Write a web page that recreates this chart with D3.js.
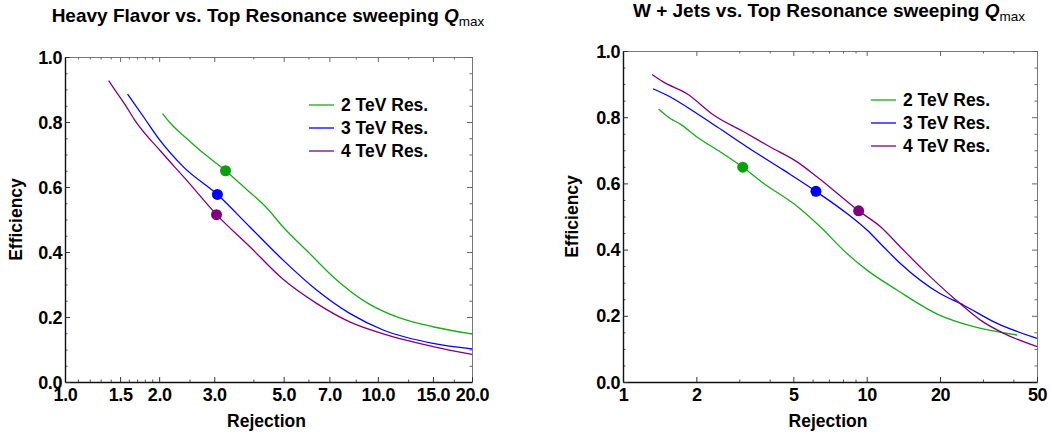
<!DOCTYPE html>
<html>
<head>
<meta charset="utf-8">
<script src="https://cdn.jsdelivr.net/npm/d3@7"></script>
<style>
  body { margin: 0; background: #fff; }
  svg { display: block; font-family: "Liberation Sans", Arial, sans-serif; }
  .tick text { font-weight: bold; font-size: 18px; fill: #000; }
  .lbl { font-weight: bold; font-size: 17.5px; }
  .ttl { font-weight: bold; font-size: 19px; }
</style>
</head>
<body>
<div class="chart"></div>
<script>
// series labels
const seriesNames = ["2 TeV Res.", "3 TeV Res.", "4 TeV Res."];
const seriesColors = ["#1aaa1a", "#0000ff", "#800080"];
const dotColors = ["#0aa00a", "#0000ff", "#800080"];

// Heavy Flavor panel: [rejection, efficiency]
const hf2 = [[2.05, 0.826], [2.17, 0.797], [2.45, 0.749], [2.7, 0.713], [3.0, 0.678], [3.26, 0.65], [3.8, 0.593], [4.41, 0.536], [4.98, 0.477], [6.06, 0.395], [7.19, 0.324], [9.19, 0.245], [11.75, 0.197], [15.0, 0.17], [20, 0.148]];
const hf3 = [[1.585, 0.886], [1.8, 0.81], [2.01, 0.744], [2.39, 0.662], [3.07, 0.577], [3.9, 0.477], [4.98, 0.375], [6.37, 0.283], [8.13, 0.211], [10.4, 0.16], [15.0, 0.119], [20, 0.102]];
const hf4 = [[1.379, 0.927], [1.445, 0.898], [1.574, 0.846], [1.673, 0.805], [2.01, 0.713], [2.447, 0.621], [3.05, 0.515], [3.9, 0.416], [4.98, 0.316], [6.37, 0.242], [8.13, 0.185], [10.4, 0.148], [15.0, 0.109], [20, 0.085]];
const hfDots = [[3.26, 0.65], [3.07, 0.577], [3.05, 0.515]];
const hfMajor = [1, 1.5, 2, 3, 5, 7, 10, 15, 20];
const hfMinor = [1.1, 1.2, 1.3, 1.4, 1.6, 1.7, 1.8, 1.9, 2.5, 4, 6, 8.5, 12.5, 17.5];

// W + Jets panel
const wj2 = [[1.4, 0.825], [1.564, 0.796], [1.72, 0.779], [2.01, 0.74], [2.51, 0.695], [3.1, 0.649], [3.78, 0.6], [5.01, 0.539], [6.45, 0.469], [8.3, 0.388], [10.03, 0.338], [13.3, 0.278], [19.9, 0.202], [27.5, 0.167], [41.4, 0.142]];
const wj3 = [[1.328, 0.886], [1.564, 0.861], [2.01, 0.811], [2.43, 0.771], [3.23, 0.71], [4.56, 0.64], [6.19, 0.576], [8.3, 0.509], [10.03, 0.459], [11.74, 0.408], [13.75, 0.358], [19.9, 0.268], [25.0, 0.232], [34.3, 0.177], [50, 0.132]];
const wj4 = [[1.315, 0.929], [1.468, 0.906], [1.83, 0.871], [2.36, 0.806], [3.13, 0.756], [4.02, 0.71], [5.18, 0.665], [6.25, 0.62], [9.27, 0.517], [11.4, 0.469], [13.75, 0.408], [17.1, 0.338], [22.8, 0.253], [29.3, 0.187], [36.5, 0.147], [50, 0.107]];
const wjDots = [[3.1, 0.649], [6.19, 0.576], [9.27, 0.517]];
const wjMajor = [1, 2, 5, 10, 20, 50];
const wjMinor = [3, 4, 6, 7, 8, 9, 30, 40];

const effMajor = [0, 0.2, 0.4, 0.6, 0.8, 1.0];
const effMinor = [0.05, 0.1, 0.15, 0.25, 0.3, 0.35, 0.45, 0.5, 0.55, 0.65, 0.7, 0.75, 0.85, 0.9, 0.95];

const svg = d3.select(".chart").append("svg")
  .attr("width", 1050)
  .attr("height", 433);

drawPanel({
  title: "Heavy Flavor vs. Top Resonance sweeping ",
  titleX: 268, titleY: 22,
  left: 65, right: 472, top: 57, bottom: 382,
  xMax: 20, xMajor: hfMajor, xMinor: hfMinor, xFmt: d3.format(".1f"),
  series: [hf2, hf3, hf4], dots: hfDots,
  legendX: 309, legendY: 105,
  yLabelX: 22
});

drawPanel({
  title: "W + Jets vs. Top Resonance sweeping ",
  titleX: 829, titleY: 17,
  left: 623, right: 1037, top: 51, bottom: 382,
  xMax: 50, xMajor: wjMajor, xMinor: wjMinor, xFmt: d3.format("d"),
  series: [wj2, wj3, wj4], dots: wjDots,
  legendX: 871, legendY: 100,
  yLabelX: 578
});

function drawPanel(p) {
  const x = d3.scaleLog().domain([1, p.xMax]).range([p.left, p.right]);
  const y = d3.scaleLinear().domain([0, 1]).range([p.bottom, p.top]);
  const g = svg.append("g");

  // frame: top and right mirrored ticks
  g.append("g")
    .attr("transform", "translate(0," + p.top + ")")
    .call(d3.axisTop(x).tickValues(p.xMajor).tickSize(-5).tickSizeOuter(0).tickFormat(""))
    .call(s => s.select(".domain").attr("stroke", "#777"))
    .call(s => s.selectAll(".tick line").attr("stroke", "#666"));
  g.append("g")
    .attr("transform", "translate(0," + p.top + ")")
    .call(d3.axisTop(x).tickValues(p.xMinor).tickSize(-2.5).tickSizeOuter(0).tickFormat(""))
    .call(s => s.select(".domain").remove())
    .call(s => s.selectAll(".tick line").attr("stroke", "#666"));
  g.append("g")
    .attr("transform", "translate(" + p.right + ",0)")
    .call(d3.axisRight(y).tickValues(effMajor).tickSize(-5).tickSizeOuter(0).tickFormat(""))
    .call(s => s.select(".domain").attr("stroke", "#777"))
    .call(s => s.selectAll(".tick line").attr("stroke", "#666"));
  g.append("g")
    .attr("transform", "translate(" + p.right + ",0)")
    .call(d3.axisRight(y).tickValues(effMinor).tickSize(-2.5).tickSizeOuter(0).tickFormat(""))
    .call(s => s.select(".domain").remove())
    .call(s => s.selectAll(".tick line").attr("stroke", "#666"));

  // bottom axis
  g.append("g")
    .attr("transform", "translate(0," + p.bottom + ")")
    .call(d3.axisBottom(x).tickValues(p.xMinor).tickSize(-2.5).tickSizeOuter(0).tickFormat(""))
    .call(s => s.select(".domain").remove())
    .call(s => s.selectAll(".tick line").attr("stroke", "#555"));
  g.append("g")
    .attr("transform", "translate(0," + p.bottom + ")")
    .call(d3.axisBottom(x).tickValues(p.xMajor).tickSize(-5).tickSizeOuter(0).tickFormat(p.xFmt))
    .call(s => s.select(".domain").attr("stroke", "#111").attr("stroke-width", 1.4))
    .call(s => s.selectAll(".tick line").attr("stroke", "#333"))
    .call(s => s.selectAll(".tick text").attr("y", 19).attr("dy", 0).attr("letter-spacing", "-0.4px"));

  // left axis
  g.append("g")
    .attr("transform", "translate(" + p.left + ",0)")
    .call(d3.axisLeft(y).tickValues(effMinor).tickSize(-2.5).tickSizeOuter(0).tickFormat(""))
    .call(s => s.select(".domain").remove())
    .call(s => s.selectAll(".tick line").attr("stroke", "#555"));
  g.append("g")
    .attr("transform", "translate(" + p.left + ",0)")
    .call(d3.axisLeft(y).tickValues(effMajor).tickSize(-5).tickSizeOuter(0).tickFormat(d3.format(".1f")))
    .call(s => s.select(".domain").attr("stroke", "#111").attr("stroke-width", 1.4))
    .call(s => s.selectAll(".tick line").attr("stroke", "#333"))
    .call(s => s.selectAll(".tick text").attr("x", -3).attr("dy", "0.34em").attr("letter-spacing", "-0.4px"));

  // curves
  const line = d3.line()
    .x(d => x(d[0]))
    .y(d => y(d[1]))
    .curve(d3.curveMonotoneX);

  g.selectAll(".curve")
    .data(p.series)
    .join("path")
    .attr("class", "curve")
    .attr("fill", "none")
    .attr("stroke", (d, i) => seriesColors[i])
    .attr("stroke-width", 1.3)
    .attr("d", line);

  g.selectAll(".dot")
    .data(p.dots)
    .join("circle")
    .attr("class", "dot")
    .attr("cx", d => x(d[0]))
    .attr("cy", d => y(d[1]))
    .attr("r", 5.5)
    .attr("fill", (d, i) => dotColors[i]);

  // legend
  const leg = g.selectAll(".leg")
    .data(seriesNames)
    .join("g")
    .attr("class", "leg")
    .attr("transform", (d, i) => "translate(" + p.legendX + "," + (p.legendY + i * 23) + ")");
  leg.append("line")
    .attr("x1", 0).attr("x2", 25)
    .attr("stroke", (d, i) => seriesColors[i])
    .attr("stroke-width", 1.3);
  leg.append("text")
    .attr("class", "lbl")
    .attr("x", 32)
    .attr("dy", "0.36em")
    .text(d => d);

  // axis titles
  g.append("text")
    .attr("class", "lbl")
    .attr("text-anchor", "middle")
    .attr("x", (p.left + p.right) / 2 - 2)
    .attr("y", 427)
    .text("Rejection");
  g.append("text")
    .attr("class", "lbl")
    .attr("text-anchor", "middle")
    .attr("transform", "translate(" + p.yLabelX + "," + ((p.top + p.bottom) / 2) + ") rotate(-90)")
    .text("Efficiency");

  // title with Q_max
  const t = g.append("text")
    .attr("class", "ttl")
    .attr("text-anchor", "middle")
    .attr("x", p.titleX)
    .attr("y", p.titleY);
  t.append("tspan").text(p.title);
  t.append("tspan").attr("font-style", "italic").text("Q");
  t.append("tspan").attr("font-size", "13.5px").attr("font-weight", "normal").attr("dy", 4).text("max");
}
</script>
</body>
</html>
